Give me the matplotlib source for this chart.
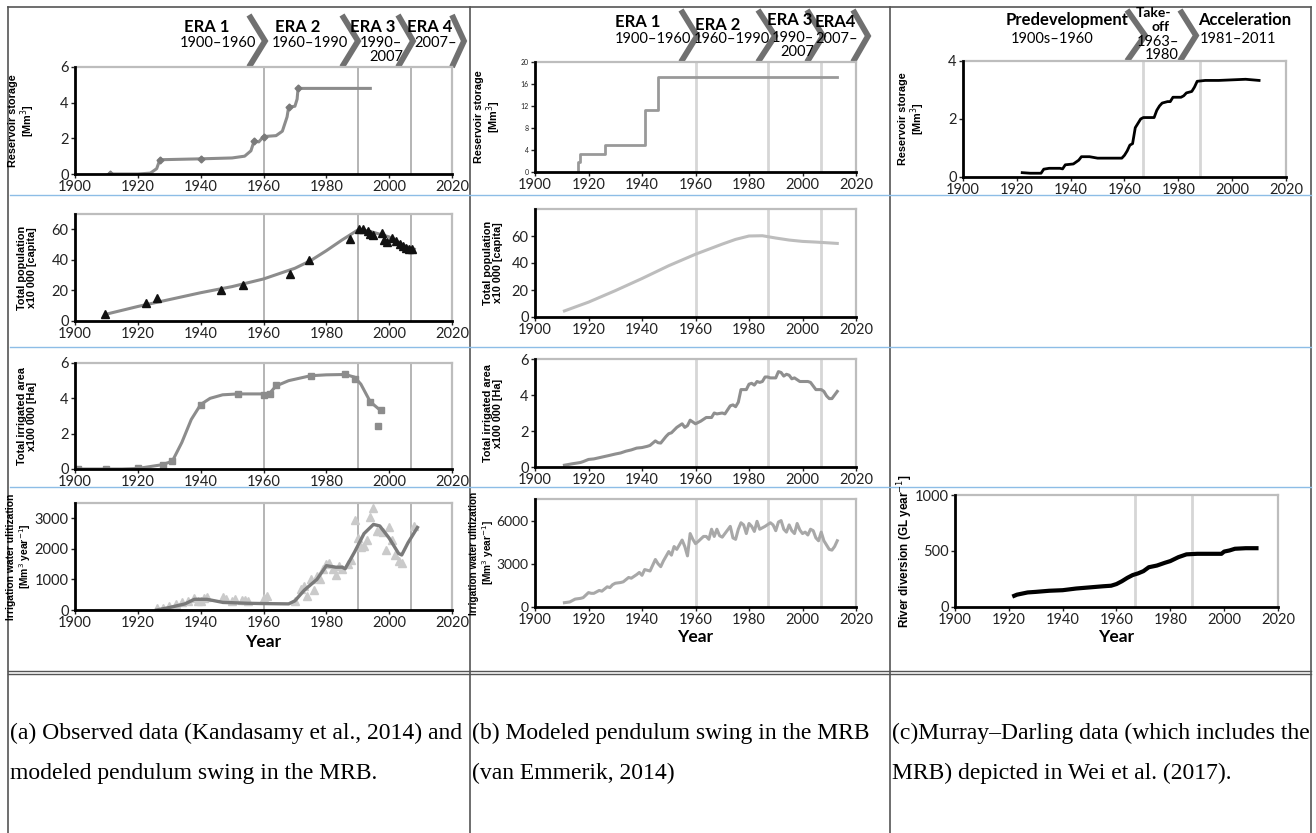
import matplotlib
matplotlib.use("Agg")
import matplotlib.pyplot as plt

W, H = 1316, 833

# ---- column (a): observed data, Kandasamy et al. 2014 ----
a_res_line_yr = [1911, 1920, 1924, 1926, 1927, 1940, 1950, 1954, 1956, 1957, 1958.5, 1960,
                 1964, 1966, 1967.5, 1968, 1970, 1970.7, 1971, 1994]
a_res_line = [0, 0, 0.05, 0.3, 0.8, 0.85, 0.9, 1.0, 1.3, 1.85, 1.8, 2.1,
              2.15, 2.4, 3.2, 3.75, 3.8, 4.2, 4.8, 4.8]
a_res_pts_yr = [1911, 1927, 1940, 1957, 1960, 1968, 1971]
a_res_pts = [0, 0.8, 0.85, 1.85, 2.1, 3.75, 4.8]

a_pop_line_yr = [1910, 1920, 1930, 1940, 1950, 1960, 1970, 1975, 1980, 1985, 1990, 1991,
                 1995, 2000, 2005, 2008]
a_pop_line = [4.5, 9.5, 14, 18.5, 22.5, 27.5, 34.5, 39.5, 46, 53, 59.5, 60, 58, 55, 49, 47]
a_pop_pts_yr = [1909.5, 1922.5, 1926, 1946.5, 1953.5, 1968.5, 1974.5, 1987.5, 1990.3, 1991.7,
                1993.2, 1994, 1995, 1997.8, 1998.4, 1999.2, 2000.8, 2002.3, 2003.3, 2004.4,
                2005.5, 2006.4, 2007.4]
a_pop_pts = [4.8, 12, 15, 20, 23.6, 31, 40, 53.5, 60.5, 60, 59, 57, 56.3, 57.5, 53, 51.7,
             54.4, 52.4, 50.6, 49.3, 48, 47.2, 47.4]

a_irr_line_yr = [1901, 1915, 1920, 1928, 1931, 1934, 1937, 1940, 1943, 1947, 1952, 1960, 1962,
                 1964, 1968, 1975, 1980, 1986, 1989, 1991, 1994, 1997]
a_irr_line = [0, 0, 0.03, 0.25, 0.45, 1.5, 2.8, 3.65, 4.0, 4.2, 4.25, 4.25, 4.3,
              4.7, 5.0, 5.28, 5.33, 5.35, 5.2, 4.8, 3.8, 3.35]
a_irr_pts_yr = [1901, 1910, 1920, 1928, 1931, 1940, 1952, 1960, 1962, 1964, 1975, 1986, 1989,
                1994, 1996.5, 1997.5]
a_irr_pts = [0, 0, 0.05, 0.25, 0.45, 3.65, 4.25, 4.2, 4.25, 4.75, 5.25, 5.35, 5.1,
             3.8, 2.45, 3.35]

a_wat_line_yr = [1926, 1930, 1935, 1938, 1942, 1947, 1955, 1960, 1968, 1970, 1973, 1977, 1980,
                 1983, 1985, 1986, 1989, 1992, 1995, 1997, 2000, 2003, 2004, 2006, 2009]
a_wat_line = [0, 80, 200, 350, 350, 250, 220, 210, 200, 300, 650, 1000, 1450,
              1400, 1400, 1350, 1900, 2500, 2800, 2750, 2350, 1850, 1800, 2200, 2700]
a_wat_pts_yr = [1926, 1928, 1930, 1932, 1934, 1936, 1938, 1939, 1940, 1941, 1942, 1947, 1948,
                1950, 1951, 1953, 1954, 1955, 1960, 1961, 1970, 1972, 1973, 1974, 1975, 1976,
                1977, 1978, 1979, 1980, 1981, 1982, 1983, 1984, 1985, 1987, 1988, 1989, 1990,
                1991, 1992, 1993, 1994, 1995, 1996, 1997, 1998, 1999, 2000, 2001, 2002, 2003,
                2004, 2008]
a_wat_pts = [50, 80, 120, 180, 250, 280, 400, 300, 280, 400, 410, 420, 350,
             300, 350, 330, 320, 310, 380, 450, 300, 700, 800, 450, 1000, 650,
             1100, 1000, 1350, 1500, 1550, 1350, 1150, 1450, 1350, 1500, 1650, 2950, 2350,
             2050, 2100, 2300, 3050, 3350, 2600, 2600, 2550, 1950, 2700, 2300, 1800, 1600,
             1550, 2750]

# ---- column (b): modeled, van Emmerik 2014 ----
b_res_yr = [1916, 1916, 1917, 1926, 1941, 1946, 2013]
b_res = [0, 1.8, 3.2, 4.9, 11.2, 17.2, 17.2]

b_pop_yr = [1911, 1920, 1930, 1940, 1950, 1960, 1970, 1975, 1980, 1985, 1990, 1995, 2000, 2005, 2013]
b_pop = [4.5, 11, 19.5, 28.5, 38, 46.5, 54, 57.5, 60, 60.2, 58.5, 57, 56, 55.5, 54.5]

b_irr_yr = [1911, 1914, 1917, 1918, 1920, 1922, 1925, 1928, 1930, 1932, 1934, 1936, 1938, 1940,
            1942, 1943, 1945, 1946, 1947, 1949, 1950, 1951, 1953, 1955, 1956, 1957, 1958, 1960,
            1962, 1964, 1966, 1967, 1968, 1970, 1971, 1973, 1974, 1975, 1976, 1977, 1978, 1979,
            1980, 1981, 1982, 1983, 1984, 1985, 1986, 1987, 1988, 1990, 1991, 1992, 1993, 1994,
            1995, 1996, 1997, 1998, 1999, 2000, 2002, 2003, 2004, 2005, 2007, 2008, 2009, 2010,
            2011, 2012, 2013]
b_irr = [0.1, 0.18, 0.25, 0.3, 0.42, 0.45, 0.55, 0.65, 0.72, 0.78, 0.88, 0.95, 1.05, 1.08,
         1.15, 1.2, 1.45, 1.35, 1.33, 1.7, 1.85, 1.9, 2.2, 2.4, 2.2, 2.3, 2.6, 2.4,
         2.55, 2.75, 2.75, 3.0, 2.95, 3.0, 2.95, 3.4, 3.45, 3.35, 3.6, 4.3, 4.3, 4.3,
         4.6, 4.65, 4.55, 4.75, 4.7, 4.75, 5.0, 5.0, 4.95, 4.95, 5.3, 5.25, 5.05, 5.15,
         5.1, 4.9, 4.95, 4.85, 4.75, 4.75, 4.75, 4.7, 4.5, 4.3, 4.3, 4.2, 3.95, 3.8,
         3.8, 4.0, 4.2]

b_wat_yr = [1911, 1913, 1915, 1917, 1918, 1920, 1921, 1922, 1924, 1925, 1927, 1928, 1929, 1930,
            1932, 1933, 1935, 1936, 1938, 1939, 1940, 1941, 1942, 1943, 1945, 1946, 1947, 1948,
            1950, 1951, 1952, 1953, 1955, 1956, 1957, 1958, 1959, 1960, 1961, 1963, 1964, 1965,
            1966, 1967, 1968, 1969, 1970, 1971, 1973, 1974, 1975, 1976, 1977, 1978, 1979, 1980,
            1981, 1982, 1983, 1984, 1985, 1986, 1988, 1989, 1990, 1991, 1992, 1993, 1994, 1995,
            1996, 1997, 1998, 1999, 2000, 2001, 2002, 2003, 2004, 2005, 2006, 2007, 2008, 2009,
            2010, 2011, 2012, 2013]
b_wat = [300, 350, 550, 600, 650, 1000, 950, 950, 1150, 1100, 1400, 1350, 1550, 1650,
         1700, 1750, 2050, 2000, 2250, 2400, 2200, 2600, 2550, 2500, 3300, 3000, 2800, 3200,
         3850, 3600, 4200, 4000, 4650, 4200, 3550, 5100, 4700, 4400, 4550, 4900, 4900, 4700,
         5400, 4900, 5400, 4950, 4850, 5100, 5600, 4800, 4700, 5400, 5850, 5700, 5100, 5800,
         5600, 5250, 5950, 5400, 5500, 5600, 5850, 5700, 5300, 5900, 6000, 5400, 5200, 5700,
         5300, 5100, 5800, 5350, 5100, 5200, 5000, 5400, 5300, 4800, 4600, 5200, 4600, 4300,
         4000, 3950, 4200, 4600]

# ---- column (c): Murray-Darling, Wei et al. 2017 ----
c_res_yr = [1922, 1925, 1929, 1930, 1932, 1936, 1937, 1938, 1941, 1943, 1944, 1947, 1950, 1955,
            1959, 1960, 1961, 1962, 1963, 1964, 1965, 1966, 1967, 1971, 1972, 1973, 1974, 1976,
            1977, 1978, 1981, 1982, 1983, 1985, 1986, 1987, 1990, 1995, 2000, 2005, 2010]
c_res = [0.15, 0.13, 0.13, 0.27, 0.3, 0.3, 0.28, 0.42, 0.45, 0.58, 0.7, 0.7, 0.65, 0.65,
         0.65, 0.75, 0.9, 1.1, 1.15, 1.7, 1.85, 2.0, 2.05, 2.05, 2.3, 2.45, 2.55, 2.6,
         2.6, 2.75, 2.75, 2.8, 2.9, 2.95, 3.1, 3.3, 3.33, 3.33, 3.35, 3.37, 3.33]

c_div_yr = [1922, 1923, 1925, 1927, 1930, 1935, 1940, 1945, 1950, 1955, 1958, 1960, 1962, 1964,
            1966, 1968, 1970, 1972, 1975, 1978, 1980, 1983, 1986, 1990, 1995, 1999, 2000, 2002,
            2004, 2008, 2012]
c_div = [100, 110, 120, 130, 135, 145, 150, 165, 175, 185, 190, 205, 230, 260,
         285, 300, 320, 355, 370, 395, 410, 445, 470, 475, 475, 475, 495, 505,
         520, 525, 525]

captions = [
    ("(a) Observed data (Kandasamy et al., 2014) and", "modeled pendulum swing in the MRB."),
    ("(b) Modeled pendulum swing in the MRB", "(van Emmerik, 2014)"),
    ("(c)Murray\u2013Darling data (which includes the", "MRB) depicted in Wei et al. (2017)."),
]

TICKFONT = "Lato"
LABFONT = "Liberation Sans"

fig = plt.figure(figsize=(W / 100, H / 100), dpi=100)
bg = fig.add_axes([0, 0, 1, 1], zorder=-5)
bg.set_xlim(0, W)
bg.set_ylim(H, 0)
bg.axis("off")


def panel(left, right, top, bottom):
    return fig.add_axes([left / W, 1 - bottom / H, (right - left) / W, (bottom - top) / H])


def style(ax, ylim, yticks, eras, ecol, elw, ylabel, labx, ysize=10.5, labsize=7.8):
    ax.set_xlim(1900, 2020)
    ax.set_ylim(*ylim)
    ax.set_xticks(range(1900, 2021, 20))
    ax.set_yticks(yticks)
    for s in ["top", "right"]:
        ax.spines[s].set_color("#bdbdbd")
        ax.spines[s].set_linewidth(1.6)
    for s in ["left", "bottom"]:
        ax.spines[s].set_color("black")
        ax.spines[s].set_linewidth(2)
        ax.spines[s].set_zorder(5)
    for e in eras:
        ax.axvline(e, color=ecol, lw=elw, zorder=0)
    ax.tick_params(axis="both", length=3, width=1, pad=1.5, colors="#222222")
    ax.tick_params(axis="x", labelsize=10.5)
    ax.tick_params(axis="y", labelsize=ysize)
    for lab in ax.get_xticklabels() + ax.get_yticklabels():
        lab.set_family(TICKFONT)
    # labx is the right edge of the (rotated) label
    ax.set_ylabel(ylabel, fontsize=labsize, fontweight="bold", family=LABFONT, linespacing=1.05)
    ax.yaxis.set_label_coords(labx, 0.5)


def year_label(ax, y):
    ax.set_xlabel("Year", fontsize=12.5, fontweight="bold", family=TICKFONT)
    ax.xaxis.set_label_coords(0.5, y)


A_ERAS = [1960, 1990, 2007]
B_ERAS = [1960, 1987, 2007]
C_ERAS = [1967, 1988]

# column a
ax = panel(75, 452, 67, 174)
ax.plot(a_res_line_yr, a_res_line, color="#8c8c8c", lw=2.2)
ax.plot(a_res_pts_yr, a_res_pts, ls="none", marker="D", ms=3.5, color="#7a7a7a")
style(ax, (0, 6), [0, 2, 4, 6], A_ERAS, "#a8a8a8", 1.2, "Reservoir storage\n[Mm$^3$]", -0.10)

ax = panel(75, 452, 214, 321)
ax.plot(a_pop_line_yr, a_pop_line, color="#8c8c8c", lw=2.2)
ax.plot(a_pop_pts_yr, a_pop_pts, ls="none", marker="^", ms=6, color="#111111")
style(ax, (0, 70), [0, 20, 40, 60], A_ERAS, "#a8a8a8", 1.2, "Total population\nx10 000 [capita]", -0.10)

ax = panel(75, 452, 363, 469)
ax.plot(a_irr_line_yr, a_irr_line, color="#8c8c8c", lw=2.2)
ax.plot(a_irr_pts_yr, a_irr_pts, ls="none", marker="s", ms=5, color="#8c8c8c")
style(ax, (0, 6), [0, 2, 4, 6], A_ERAS, "#a8a8a8", 1.2, "Total irrigated area\nx100 000 [Ha]", -0.10)

ax = panel(75, 452, 503, 610)
ax.plot(a_wat_pts_yr, a_wat_pts, ls="none", marker="^", ms=6, color="#cacaca")
ax.plot(a_wat_line_yr, a_wat_line, color="#7a7a7a", lw=2.4)
style(ax, (0, 3500), [0, 1000, 2000, 3000], A_ERAS, "#a8a8a8", 1.2,
      "Irrigation water ulitization\n[Mm$^3$ year$^{-1}$]", -0.112, labsize=7.4)
year_label(ax, -0.22)

# column b
ax = panel(535, 856, 62, 172)
ax.plot(b_res_yr, b_res, color="#999999", lw=2, drawstyle="steps-post")
style(ax, (0, 20), [0, 4, 8, 12, 16, 20], B_ERAS, "#d6d6d6", 2, "Reservoir storage\n[Mm$^3$]", -0.10, ysize=5)

ax = panel(535, 856, 209, 317)
ax.plot(b_pop_yr, b_pop, color="#bdbdbd", lw=2.2)
style(ax, (0, 80), [0, 20, 40, 60], B_ERAS, "#d6d6d6", 2, "Total population\nx10 000 [capita]", -0.10)

ax = panel(535, 856, 359, 467)
ax.plot(b_irr_yr, b_irr, color="#8f8f8f", lw=2.2)
style(ax, (0, 6), [0, 2, 4, 6], B_ERAS, "#d6d6d6", 2, "Total irrigated area\nx100 000 [Ha]", -0.10)

ax = panel(535, 856, 499, 607)
ax.plot(b_wat_yr, b_wat, color="#a8a8a8", lw=2.2)
style(ax, (0, 7500), [0, 3000, 6000], B_ERAS, "#d6d6d6", 2,
      "Irrigation water ulitization\n[Mm$^3$ year$^{-1}$]", -0.122, ysize=10, labsize=7.3)
year_label(ax, -0.2)

# column c
ax = panel(963, 1286, 61, 177)
ax.plot(c_res_yr, c_res, color="black", lw=2)
style(ax, (0, 4), [0, 2, 4], C_ERAS, "#d6d6d6", 2, "Reservoir storage\n[Mm$^3$]", -0.11)

ax = panel(955, 1278, 495, 607)
ax.plot(c_div_yr, c_div, color="black", lw=3)
style(ax, (0, 1000), [0, 500, 1000], C_ERAS, "#d6d6d6", 2, "River diversion (GL year$^{-1}$]",
      -0.125, labsize=8.5)
year_label(ax, -0.2)

# ---- table frame ----
tcol = "#555555"
for x in [8, 470, 890, 1311]:
    bg.plot([x, x], [7, H], color=tcol, lw=1.2)
bg.plot([8, 1311], [7, 7], color=tcol, lw=1.2)
bg.plot([8, 1311], [671, 671], color=tcol, lw=1)
bg.plot([8, 1311], [674, 674], color=tcol, lw=1)
for y in [195, 347, 487]:
    bg.plot([10, 1311], [y, y], color="#8dbde6", lw=1)

# ---- era headers ----
chev = "#707070"


def chevron(x0, x1, top, bottom):
    bg.plot([x0, x1, x0], [top, (top + bottom) / 2, bottom], color=chev, lw=4.2,
            solid_joinstyle="miter", solid_capstyle="butt")


for x0, x1 in [(249, 265), (342, 358), (398, 413), (452, 464)]:
    chevron(x0, x1, 15, 67)
for x0, x1 in [(681, 697), (758, 775), (807, 823), (853, 868)]:
    chevron(x0, x1, 10, 62)
for x0, x1 in [(1127, 1145), (1180, 1196)]:
    chevron(x0, x1, 10, 61)

hb = dict(ha="center", va="center", fontsize=12, fontweight="bold", family=TICKFONT)
hn = dict(ha="center", va="center", fontsize=10.5, family=TICKFONT)
for x, y, t in [(207, 27, "ERA 1"), (298, 27, "ERA 2"), (373, 27, "ERA 3"), (430, 27, "ERA 4"),
                (638, 22, "ERA 1"), (718, 25, "ERA 2"), (790, 20, "ERA 3"), (835, 22, "ERA4"),
                (1067, 20, "Predevelopment"), (1245, 20, "Acceleration")]:
    bg.text(x, y, t, **hb)
bg.text(1153, 13, "Take-", **dict(hb, fontsize=10))
bg.text(1160, 27, "off", **dict(hb, fontsize=10))
for x, y, t in [(218, 43, "1900\u20131960"), (310, 43, "1960\u20131990"), (381, 43, "1990\u2013"),
                (386, 57, "2007"), (436, 43, "2007\u2013"),
                (653, 39, "1900\u20131960"), (732, 39, "1960\u20131990"), (793, 38, "1990\u2013"),
                (797, 52, "2007"), (837, 39, "2007\u2013"),
                (1052, 39, "1900s\u20131960"), (1158, 42, "1963\u2013"), (1162, 55, "1980"),
                (1238, 39, "1981\u20132011")]:
    bg.text(x, y, t, **hn)

# ---- captions ----
for x, (l1, l2) in zip([10, 472, 892], captions):
    bg.text(x, 733, l1, ha="left", va="center", fontsize=17, family="Liberation Serif")
    bg.text(x, 773, l2, ha="left", va="center", fontsize=17, family="Liberation Serif")

fig.savefig("out.png", dpi=100)
